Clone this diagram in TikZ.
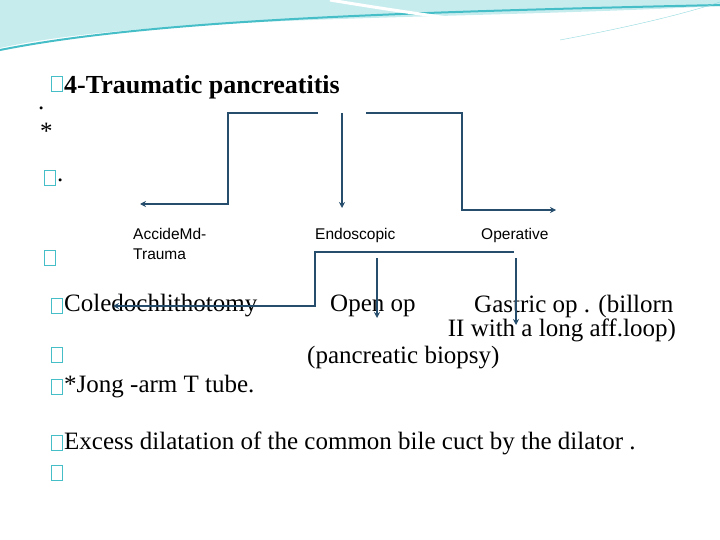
\documentclass[tikz,border=0pt]{standalone}
\usepackage{fontspec}
\setmainfont{Liberation Serif}
\setsansfont{Liberation Sans}
\usetikzlibrary{arrows.meta}
\definecolor{linecol}{RGB}{38,78,108}
\definecolor{boxcol}{RGB}{70,190,200}
\begin{document}
\begin{tikzpicture}[x=1pt,y=-1pt,>={Stealth[length=6pt,width=6pt]},
        conn/.style={draw=linecol,line width=2pt,->},
        bul/.style={draw=boxcol,line width=1.3pt,minimum width=11pt,minimum height=15pt,inner sep=0pt},
        body/.style={anchor=west,inner sep=0pt,font=\fontsize{25}{28}\selectfont},
        lab/.style={anchor=north west,inner sep=0pt,align=left,font=\sffamily\fontsize{15.5}{20}\selectfont}]
        \useasboundingbox (0,0) rectangle (720,540);
        % swooshes at the top
        \fill[boxcol!30] (0,0) -- (720,0) -- (720,6) .. controls (450,20) and (150,15) .. (0,48) -- cycle;
        \draw[boxcol,line width=2pt] (0,50) .. controls (150,20) and (400,12) .. (720,5);
        \draw[white,line width=3pt] (330,0) .. controls (420,15) and (520,28) .. (600,38);
        \draw[boxcol!60] (560,40) .. controls (640,25) and (690,12) .. (720,2);
        % bullets and text
        \node[bul] (b1) at (57,84) {};
        \node[body,font=\bfseries\fontsize{26}{28}\selectfont] (title) at (64,87) {4-Traumatic pancreatitis};
        \node[body] (dot1) at (38,108) {.};
        \node[body] (star) at (40,131) {*};
        \node[bul] (b2) at (50,178) {};
        \node[body] (dot2) at (57,180) {.};
        \node[bul] (b3) at (50,258) {};
        \node[lab] (acc) at (133,228) {AccideMd-\\Trauma};
        \node[lab] (endo) at (315,228) {Endoscopic};
        \node[lab] (oper) at (481,228) {Operative};
        \node[bul] (b4) at (57,306) {};
        \node[body] (coledo) at (64,306) {Coledochlithotomy};
        \node[body] (open) at (330,306) {Open op};
        \node[body] (gastric) at (474,306) {Gastric op . (billorn};
        \node[body,anchor=east] (gastric2) at (676,330) {II with a long aff.loop)};
        \node[body] (biopsy) at (307,358) {(pancreatic biopsy)};
        \node[bul] (b5) at (57,355) {};
        \node[bul] (b6) at (57,387) {};
        \node[body] (tube) at (64,387) {*Jong -arm T tube.};
        \node[bul] (b7) at (57,443) {};
        \node[body] (excess) at (64,443) {Excess dilatation of the common bile cuct by the dilator .};
        \node[bul] (b8) at (57,473) {};
        % connectors
        \coordinate (t1) at (318,113);
        \coordinate (t2) at (342,113);
        \coordinate (t3) at (366,113);
        \coordinate (e1) at (140,204);
        \coordinate (e2) at (342,208);
        \coordinate (e3) at (556,210);
        \coordinate (s1) at (514,252);
        \coordinate (e4) at (113,306);
        \coordinate (s2) at (377,258);
        \coordinate (e5) at (377,318);
        \coordinate (s3) at (516,258);
        \coordinate (e6) at (516,325);
        \draw[conn] (t1) -- (228,113) |- (e1);
        \draw[conn] (t2) -- (e2);
        \draw[conn] (t3) -- (462,113) |- (e3);
        \draw[conn] (s1) -- (315,252) |- (e4);
        \draw[conn] (s2) -- (e5);
        \draw[conn] (s3) -- (e6);
\end{tikzpicture}
\end{document}
